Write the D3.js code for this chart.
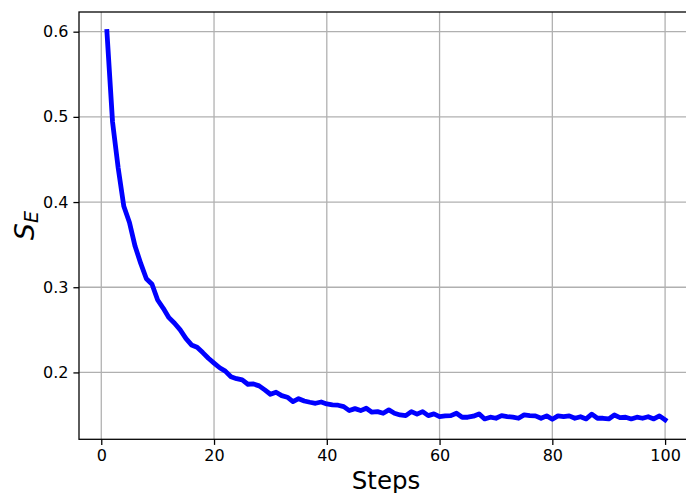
<!DOCTYPE html>
<html>
<head>
<meta charset="utf-8">
<script src="https://cdn.jsdelivr.net/npm/d3@7"></script>
<style>
  html, body { margin: 0; padding: 0; background: #fff; }
  svg { display: block; }
  text { font-family: "DejaVu Sans", sans-serif; fill: #000; }
</style>
</head>
<body>
<svg id="chart" width="686" height="493"></svg>
<script>
// Training steps and the measured S_E value at each step
const steps = [
  1, 2, 3, 4, 5, 6, 7, 8, 9, 10,
  11, 12, 13, 14, 15, 16, 17, 18, 19, 20,
  21, 22, 23, 24, 25, 26, 27, 28, 29, 30,
  31, 32, 33, 34, 35, 36, 37, 38, 39, 40,
  41, 42, 43, 44, 45, 46, 47, 48, 49, 50,
  51, 52, 53, 54, 55, 56, 57, 58, 59, 60,
  61, 62, 63, 64, 65, 66, 67, 68, 69, 70,
  71, 72, 73, 74, 75, 76, 77, 78, 79, 80,
  81, 82, 83, 84, 85, 86, 87, 88, 89, 90,
  91, 92, 93, 94, 95, 96, 97, 98, 99, 100
];
const sE = [
  0.6003, 0.494, 0.440, 0.395, 0.376, 0.348, 0.328, 0.310, 0.3035, 0.285,
  0.2753, 0.2643, 0.2577, 0.2499, 0.240, 0.2323, 0.2296, 0.2233, 0.2167, 0.2110,
  0.2055, 0.2015, 0.195, 0.1927, 0.1912, 0.1861, 0.1865, 0.1842, 0.1795, 0.1744,
  0.1768, 0.1728, 0.1709, 0.1657, 0.1692, 0.1665, 0.165, 0.1638, 0.1653, 0.163,
  0.1618, 0.1615, 0.1599, 0.1552, 0.1575, 0.1552, 0.158, 0.1533, 0.154, 0.1521,
  0.156, 0.1521, 0.1501, 0.1493, 0.154, 0.151, 0.154, 0.1493, 0.1513, 0.1482,
  0.149, 0.1493, 0.1521, 0.1474, 0.1474, 0.1486, 0.1513, 0.1454, 0.1474, 0.1462,
  0.1493, 0.1482, 0.1474, 0.1462, 0.1501, 0.1493, 0.149, 0.1462, 0.149, 0.145,
  0.149, 0.1482, 0.149, 0.1462, 0.148, 0.1454, 0.151, 0.1462, 0.1462, 0.1454,
  0.150, 0.147, 0.1474, 0.1454, 0.1474, 0.1462, 0.148, 0.1454, 0.149, 0.1443
];
const xTicks = [0, 20, 40, 60, 80, 100];
const yTicks = [0.2, 0.3, 0.4, 0.5, 0.6];
const xLabel = "Steps";

// Plot frame
const plotL = 79, plotR = 693, plotT = 12, plotB = 439.3;

// Pad the data extent by 5% on each side
function padded(ext) {
  const d = (ext[1] - ext[0]) * 0.05;
  return [ext[0] - d, ext[1] + d];
}

const x = d3.scaleLinear().domain(padded(d3.extent(steps))).range([plotL, plotR]);
const y = d3.scaleLinear().domain(padded(d3.extent(sE))).range([plotB, plotT]);

const svg = d3.select("#chart");
const lw = 1.28;

// Grid
const grid = svg.append("g");
grid.selectAll("line.gx").data(xTicks).join("line")
  .attr("class", "gx")
  .attr("x1", d => x(d)).attr("x2", d => x(d))
  .attr("y1", plotT).attr("y2", plotB)
  .attr("stroke", "#b0b0b0").attr("stroke-width", lw);
grid.selectAll("line.gy").data(yTicks).join("line")
  .attr("class", "gy")
  .attr("x1", plotL).attr("x2", plotR)
  .attr("y1", d => y(d)).attr("y2", d => y(d))
  .attr("stroke", "#b0b0b0").attr("stroke-width", lw);

// Series line
const data = steps.map((s, i) => [s, sE[i]]);
svg.append("path")
  .datum(data)
  .attr("fill", "none")
  .attr("stroke", "#0000ff")
  .attr("stroke-width", 4.8)
  .attr("stroke-linejoin", "round")
  .attr("stroke-linecap", "square")
  .attr("d", d3.line().x(d => x(d[0])).y(d => y(d[1])));

// Axes
const xAxis = d3.axisBottom(x).tickValues(xTicks).tickFormat(d3.format("d"))
  .tickSize(5.6).tickPadding(5);
const yAxis = d3.axisLeft(y).tickValues(yTicks).tickFormat(d3.format(".1f"))
  .tickSize(5.6).tickPadding(5);

const gx = svg.append("g").attr("transform", `translate(0,${plotB})`).call(xAxis);
const gy = svg.append("g").attr("transform", `translate(${plotL},0)`).call(yAxis);
[gx, gy].forEach(g => {
  g.select(".domain").remove();
  g.selectAll(".tick line").attr("stroke", "#000").attr("stroke-width", lw);
  g.selectAll(".tick text")
    .style("font-family", "'DejaVu Sans', sans-serif")
    .style("font-size", "16px")
    .attr("fill", "#000");
});

// Frame
svg.append("rect")
  .attr("x", plotL).attr("y", plotT)
  .attr("width", plotR - plotL).attr("height", plotB - plotT)
  .attr("fill", "none").attr("stroke", "#000").attr("stroke-width", lw);

// Axis titles
svg.append("text")
  .attr("x", (plotL + plotR) / 2).attr("y", 489)
  .attr("text-anchor", "middle")
  .style("font-size", "24.5px")
  .text(xLabel);

const yl = svg.append("text")
  .attr("transform", `translate(33.5,${(plotT + plotB) / 2}) rotate(-90)`)
  .attr("text-anchor", "middle")
  .style("font-size", "27px")
  .style("font-style", "italic");
yl.append("tspan").text("S");
yl.append("tspan").attr("dy", 4.5).style("font-size", "19px").text("E");
</script>
</body>
</html>
